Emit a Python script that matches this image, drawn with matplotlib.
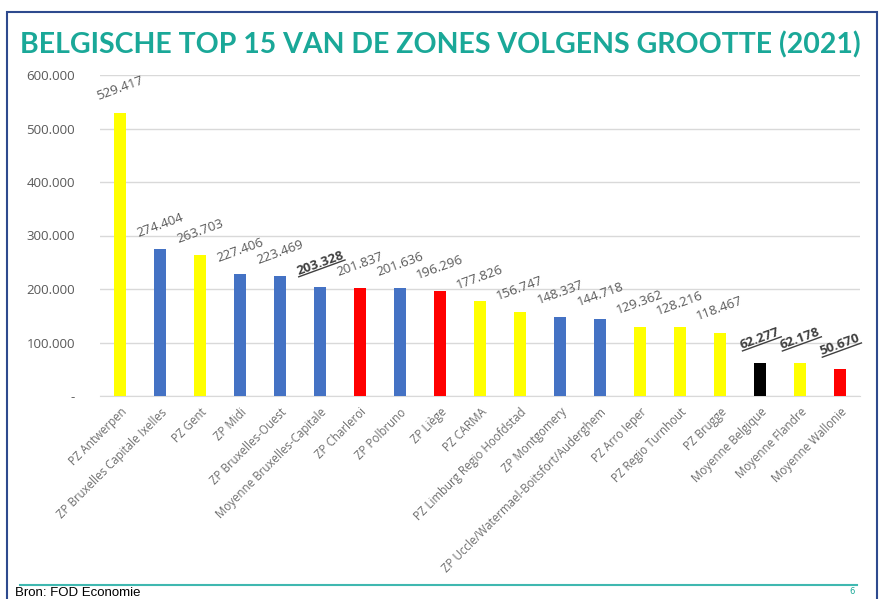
import matplotlib
matplotlib.use("Agg")
import matplotlib.pyplot as plt
from matplotlib.lines import Line2D
from matplotlib.patches import Rectangle
import numpy as np

categories = [
    "PZ Antwerpen", "ZP Bruxelles Capitale Ixelles", "PZ Gent", "ZP Midi",
    "ZP Bruxelles-Ouest", "Moyenne Bruxelles-Capitale", "ZP Charleroi",
    "ZP Polbruno", "ZP Liège", "PZ CARMA", "PZ Limburg Regio Hoofdstad",
    "ZP Montgomery", "ZP Uccle/Watermael-Boitsfort/Auderghem", "PZ Arro Ieper",
    "PZ Regio Turnhout", "PZ Brugge", "Moyenne Belgique", "Moyenne Flandre",
    "Moyenne Wallonie",
]
values = [529417, 274404, 263703, 227406, 223469, 203328, 201837, 201636,
          196296, 177826, 156747, 148337, 144718, 129362, 128216, 118467,
          62277, 62178, 50670]
regions = ["V", "B", "V", "B", "B", "B", "W", "B", "W", "V", "V", "B", "B",
           "V", "V", "V", "BE", "V", "W"]
highlighted = [False, False, False, False, False, True, False, False, False,
               False, False, False, False, False, False, False, True, True, True]
yticks = [0, 100000, 200000, 300000, 400000, 500000, 600000]
ytick_labels = ["-", "100.000", "200.000", "300.000", "400.000", "500.000", "600.000"]

region_colors = {"V": "#FFFF00", "B": "#4472C4", "W": "#FF0000", "BE": "#000000"}
grey = "#595959"
teal = "#1AA898"

W, H = 884, 599
fig = plt.figure(figsize=(W / 100, H / 100), dpi=100)
fig.patch.set_facecolor("white")

# frame
fig.add_artist(Rectangle((6.5 / W, -0.05), (877 - 6.5) / W, 1.05 - 12 / H,
                         transform=fig.transFigure, fill=False,
                         edgecolor="#2E4A8E", linewidth=1.5))

fig.text(440 / W, 1 - 45 / H, "BELGISCHE TOP 15 VAN DE ZONES VOLGENS GROOTTE (2021)",
         ha="center", va="center", color=teal, fontsize=20.5,
         fontweight="bold", family="Lato")

ax = fig.add_axes([100 / W, 1 - 396 / H, 760 / W, (396 - 75) / H])
x = np.arange(len(categories))
colors = [region_colors[r] for r in regions]
ax.bar(x, values, width=0.3, color=colors, zorder=3)
ax.set_xlim(-0.5, len(categories) - 0.5)
ax.set_ylim(0, 600000)
ax.set_yticks(yticks)
ax.set_yticklabels(ytick_labels, family="Open Sans", fontsize=9.5, color=grey)
ax.tick_params(axis="y", length=0, pad=18)
ax.tick_params(axis="x", length=0, pad=7)
ax.set_xticks(x)
ax.set_xticklabels(categories, rotation=45, ha="right", rotation_mode="anchor",
                   family="Open Sans", fontsize=8.3, color="#6E6E6E")
for s in ["top", "right", "left"]:
    ax.spines[s].set_visible(False)
ax.spines["bottom"].set_color("#D9D9D9")
ax.yaxis.grid(True, color="#D9D9D9", linewidth=1, zorder=0)
ax.set_axisbelow(True)

renderer = fig.canvas.get_renderer()
rot = 20
ang = np.deg2rad(rot)
R = np.array([[np.cos(ang), -np.sin(ang)], [np.sin(ang), np.cos(ang)]])
off_px = 24
lab_fs = 9.5
for xi, v, hl in zip(x, values, highlighted):
    label = f"{v:,}".replace(",", ".")
    t = ax.annotate(label, (xi, v), xytext=(0, off_px * 0.72), textcoords="offset points",
                    ha="center", va="center", rotation=rot, rotation_mode="anchor",
                    fontsize=lab_fs, color="#404040" if hl else grey, family="Open Sans",
                    fontweight="bold" if hl else "normal")
    if hl:
        tmp = fig.text(0, 0, label, fontsize=lab_fs, family="Open Sans", fontweight="bold")
        bb = tmp.get_window_extent(renderer)
        tmp.remove()
        w, h = bb.width, bb.height
        cx, cy = ax.transData.transform((xi, v))
        cy += off_px
        p1 = R @ np.array([-w / 2, -h / 2 + 1]) + [cx, cy]
        p2 = R @ np.array([w / 2, -h / 2 + 1]) + [cx, cy]
        inv = fig.transFigure.inverted()
        q1 = inv.transform(p1)
        q2 = inv.transform(p2)
        fig.add_artist(Line2D([q1[0], q2[0]], [q1[1], q2[1]], transform=fig.transFigure,
                              color="#404040", linewidth=1))

# bottom line and source
fig.add_artist(Line2D([20 / W, 857 / W], [1 - 585 / H, 1 - 585 / H],
                      transform=fig.transFigure, color="#3FB8B0", linewidth=1.5))
fig.text(15 / W, 1 - 587 / H, "Bron: FOD Economie", ha="left", va="top",
         fontsize=9.5, color="black", family="Liberation Sans")
fig.text(852 / W, 1 - 592 / H, "6", ha="center", va="center", fontsize=6, color=teal)

fig.savefig("out.png", dpi=100)
